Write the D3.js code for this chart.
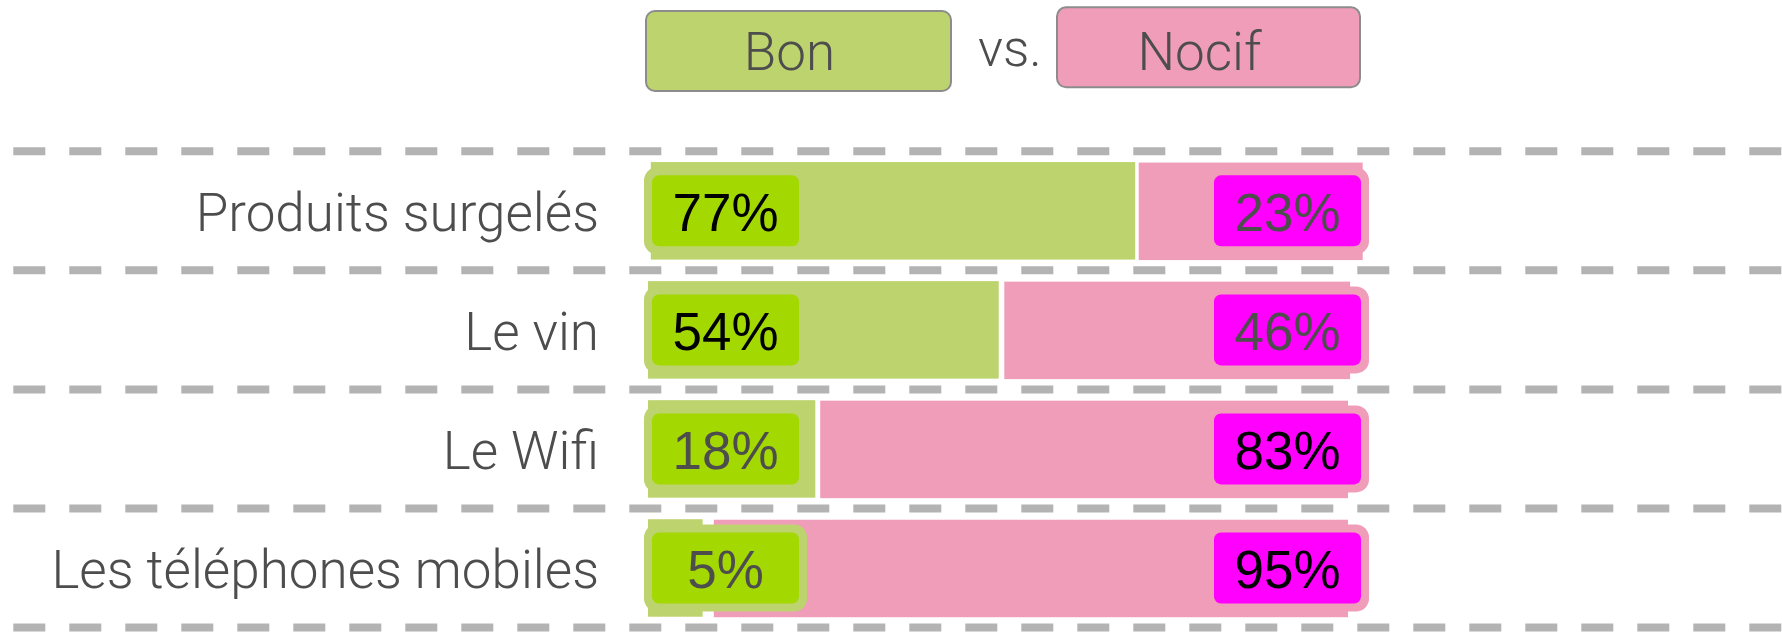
<!DOCTYPE html>
<html>
<head>
<meta charset="utf-8">
<script src="https://cdn.jsdelivr.net/npm/d3@7"></script>
<style>
  html, body { margin: 0; padding: 0; background: #fff; }
  svg { display: block; }
  text { font-family: Roboto, "Liberation Sans", Arial, sans-serif; }
  text.pct { font-family: "Liberation Sans", Arial, sans-serif; }
</style>
</head>
<body>
<div id="chart"></div>
<script>
// ---- data ----
const categories = ["Produits surgelés", "Le vin", "Le Wifi", "Les téléphones mobiles"];
const bonPct = [77, 54, 18, 5];
const nocifPct = [23, 46, 83, 95];
// bar extents as drawn in the original (percent of bar track)
const bonBarStart = [0.4, 0, 0, 0];
const bonBarEnd = [69.6, 50.1, 23.9, 7.8];
const nocifBarStart = [70.1, 50.9, 24.6, 9.4];
const nocifBarEnd = [102.1, 100.3, 100, 100];
const legendLabels = ["Bon", "Nocif"];
const legendJoin = "vs.";

// ---- styles ----
const W = 1782, H = 632;
const cBar = "#bdd36d", cBarDark = "#a3d900";
const pBar = "#f09db9", pBarDark = "#ff00ff";
const textGray = "#4d4d4d";
const dashColor = "#b3b3b3";

const svg = d3.select("#chart").append("svg").attr("width", W).attr("height", H);

const x = d3.scaleLinear().domain([0, 100]).range([648, 1348]);
const y = d3.scaleBand().domain(categories).range([151.3, 627.5]).padding(0);
const step = y.step();
const barH = 97.5;
const barOff = (step - barH) / 2;

const rows = categories.map((c, i) => ({
  c, bon: bonPct[i], nocif: nocifPct[i],
  b0: bonBarStart[i], b1: bonBarEnd[i], n0: nocifBarStart[i], n1: nocifBarEnd[i]
}));

// dashed separators
const lineYs = categories.map(c => y(c)).concat([y.range()[1]]);
svg.append("g").selectAll("line").data(lineYs).join("line")
  .attr("x1", 13.3).attr("x2", W)
  .attr("y1", d => d).attr("y2", d => d)
  .attr("stroke", dashColor).attr("stroke-width", 8)
  .attr("stroke-dasharray", "32,24");

const g = svg.append("g").selectAll("g").data(rows).join("g")
  .attr("transform", d => `translate(0,${y(d.c)})`);

// bars
g.append("rect").attr("x", d => x(d.b0)).attr("width", d => x(d.b1) - x(d.b0))
  .attr("y", barOff).attr("height", barH).attr("fill", cBar);
g.append("rect").attr("x", d => x(d.n0)).attr("width", d => x(d.n1) - x(d.n0))
  .attr("y", barOff + 0.5).attr("height", barH).attr("fill", pBar);

// value boxes
const boxH = 71, boxW = 147, ring = 8;
const boxY = (step - boxH) / 2;
const bonBoxX = x(0) + 4;
const nocifBoxX = x(100) + 13 - boxW;

g.append("rect").attr("x", bonBoxX - ring).attr("y", boxY - ring)
  .attr("width", boxW + 2 * ring).attr("height", boxH + 2 * ring)
  .attr("rx", 13).attr("fill", cBar);
g.append("rect").attr("x", bonBoxX).attr("y", boxY)
  .attr("width", boxW).attr("height", boxH).attr("rx", 7).attr("fill", cBarDark);
g.append("rect").attr("x", nocifBoxX - ring).attr("y", boxY - ring)
  .attr("width", boxW + 2 * ring).attr("height", boxH + 2 * ring)
  .attr("rx", 13).attr("fill", pBar);
g.append("rect").attr("x", nocifBoxX).attr("y", boxY)
  .attr("width", boxW).attr("height", boxH).attr("rx", 7).attr("fill", pBarDark);

const fmt = v => v + "%";
g.append("text").attr("class", "pct").attr("x", bonBoxX + boxW / 2).attr("y", step / 2 + 20.5)
  .attr("text-anchor", "middle").attr("font-size", 53)
  .attr("fill", d => d.bon > d.nocif ? "#000" : textGray).text(d => fmt(d.bon));
g.append("text").attr("class", "pct").attr("x", nocifBoxX + boxW / 2).attr("y", step / 2 + 20.5)
  .attr("text-anchor", "middle").attr("font-size", 53)
  .attr("fill", d => d.nocif > d.bon ? "#000" : textGray).text(d => fmt(d.nocif));

// category labels
g.append("text").attr("x", 599).attr("y", step / 2 + 20.5)
  .attr("text-anchor", "end").attr("font-size", 53).attr("font-weight", 300)
  .attr("fill", textGray)
  .text(d => d.c);

// legend
const leg = svg.append("g");
const legBoxes = [
  { label: legendLabels[0], x: 646, y: 11, w: 305, h: 80, fill: cBar },
  { label: legendLabels[1], x: 1057, y: 7.3, w: 303, h: 80, fill: pBar }
];
leg.selectAll("rect").data(legBoxes).join("rect")
  .attr("x", d => d.x).attr("y", d => d.y).attr("width", d => d.w).attr("height", d => d.h)
  .attr("rx", 9).attr("fill", d => d.fill).attr("stroke", "#8c8c8c").attr("stroke-width", 2);
leg.selectAll("text.l").data(legBoxes).join("text").attr("class", "l")
  .attr("x", d => d.x + d.w / 2 - 9).attr("y", 70)
  .attr("text-anchor", "middle").attr("font-size", 53).attr("font-weight", 300)
  .attr("fill", textGray)
  .text(d => d.label);
leg.append("text").attr("x", 978).attr("y", 66).attr("font-size", 52).attr("font-weight", 300)
  .attr("fill", textGray).text(legendJoin);
</script>
</body>
</html>
